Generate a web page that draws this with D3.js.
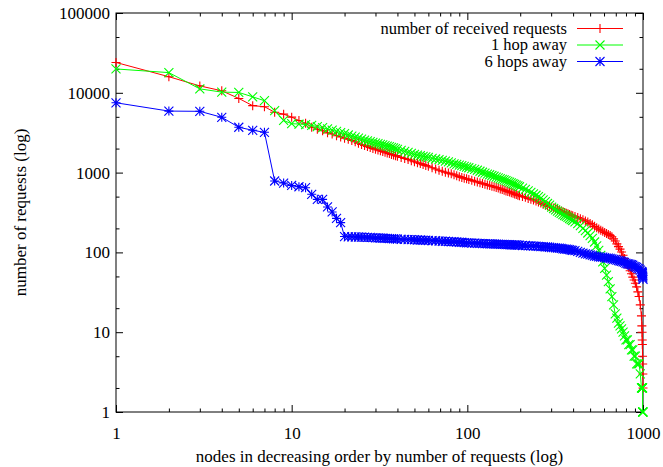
<!DOCTYPE html>
<html>
<head>
<meta charset="utf-8">
<script src="https://cdn.jsdelivr.net/npm/d3@7/dist/d3.min.js"></script>
<style>
html,body{margin:0;padding:0;background:#fff;}
svg{display:block;}
text{font-family:"Liberation Serif","Times New Roman",serif;}
</style>
</head>
<body>
<svg id="chart" width="663" height="467"></svg>
<script>
// ---- data ----
const ranks = [
1,2,3,4,5,6,7,8,9,10,11,12,13,14,15,16,17,18,19,20,
21,22,23,24,25,26,27,28,29,30,31,32,33,34,35,36,37,38,39,40,
42,44,46,48,50,52,54,56,58,60,
63,66,69,72,75,78,81,84,87,90,93,96,99,
102,106,110,114,118,122,126,130,134,138,142,146,150,154,158,162,166,170,174,178,182,186,190,194,198,
206,214,222,230,238,246,254,262,270,278,286,294,302,310,318,326,334,342,350,358,366,374,382,390,398,
410,425,440,455,470,485,500,515,530,545,560,575,590,605,620,635,650,665,680,695,
710,725,740,755,770,785,800,815,830,845,860,875,890,905,920,935,950,965,980,
985,988,990,992,994,996,998,1000];

const received = [
24000,15900,12200,10600,8500,6900,6700,5700,5400,4950,4500,4150,3700,3500,3350,3150,3050,2900,2800,2700,
2620,2530,2440,2340,2250,2190,2130,2070,2010,1960,1920,1880,1840,1800,1760,1730,1690,1660,1630,1600,
1550,1500,1460,1410,1370,1330,1300,1260,1230,1200,
1150,1110,1070,1040,1010,985,965,940,915,890,870,850,835,
820,800,780,765,745,730,715,700,690,675,665,650,640,625,615,600,590,580,570,560,550,540,530,520,512,
500,490,475,465,455,440,428,415,402,392,384,376,368,360,352,345,337,330,322,316,310,304,298,293,288,
281,273,264,256,248,240,231,222,212,203,196,190,184,178,173,168,163,157,148,139,
128,118,110,101,92,84,76,70,64,59,54,49,45,41,37,32,28,22,16,
12,10,8,7,5,4,3,2];

const oneHop = [
19900,17900,11200,10200,10100,8900,7960,5970,4500,4100,4060,4000,3900,3780,3650,3520,3400,3280,3170,3070,
2960,2860,2780,2700,2620,2550,2490,2440,2390,2340,2300,2260,2220,2180,2140,2110,2070,2040,2000,1960,
1900,1840,1790,1740,1690,1660,1630,1600,1575,1550,
1510,1480,1450,1420,1390,1360,1325,1290,1265,1240,1220,1195,1170,
1150,1120,1095,1070,1040,1010,985,960,940,920,900,880,860,840,825,810,795,775,760,745,725,710,695,680,665,
640,615,590,565,540,520,500,478,455,432,410,390,370,355,342,330,318,308,298,290,282,274,266,258,251,
242,230,216,200,187,175,162,150,135,121,106,92,76,63,52,43,35,28,22,17,
15,13,12,11,10,9,8,8,7,7,6,6,5,5,4,4,4,3,2,
2,2,2,2,2,1,1,1];

const sixHops = [
7500,5900,5860,4930,3700,3390,3200,785,740,690,665,647,535,462,462,371,321,267,236,158,
157,157,156,156,155,155,154,154,153,152,152,151,151,150,150,149,149,148,148,147,
146,146,145,145,144,143,143,142,142,141,
140,140,139,138,138,137,136,136,135,134,134,133,132,
132,131,131,130,130,129,129,128,128,128,127,127,127,126,126,126,125,125,125,124,124,124,124,123,123,
122,122,121,121,120,120,119,118,118,117,117,116,115,115,114,113,113,112,111,110,110,109,108,107,106,
105,103,100,98,96,95,93,92,90,89,88,87,87,86,85,85,84,83,82,81,
80,79,78,77,76,75,73,72,72,71,70,69,67,66,65,63,62,60,58,
57,56,55,54,52,50,48,46];

const seriesNames = ["number of received requests","1 hop away","6 hops away"];
const seriesColors = ["#ff0000","#00ff00","#0000ff"];
const seriesMarkers = ["plus","cross","star"];
const xTickLabels = [1,10,100,1000];
const yTickLabels = [1,10,100,1000,10000,100000];
const xTitle = "nodes in decreasing order by number of requests (log)";
const yTitle = "number of requests (log)";

// ---- layout ----
const L = 116, R = 643, T = 13, B = 412;
const FS = 17;

const svg = d3.select("#chart");
const x = d3.scaleLog().domain([1,1000]).range([L,R]);
const y = d3.scaleLog().domain([1,100000]).range([B,T]);

const xMinor = [];
for (let d = 1; d < 1000; d *= 10) for (let k = 2; k <= 9; k++) xMinor.push(d*k);
const yMinor = [];
for (let d = 1; d < 100000; d *= 10) { yMinor.push(d*2); yMinor.push(d*5); }

const MAJ = 7, MIN = 3.5;
const fmt = d => String(d);

function styleAxis(g){
  g.select(".domain").remove();
  g.selectAll(".tick line").attr("stroke","#000").attr("stroke-width",1);
  g.selectAll(".tick text").attr("fill","#000").style("font-size",FS+"px").style("font-family",'"Liberation Serif",serif');
}

svg.append("g").attr("transform",`translate(0,${B})`)
  .call(d3.axisBottom(x).tickValues(xTickLabels).tickFormat(fmt).tickSize(-MAJ).tickPadding(15)).call(styleAxis);
svg.append("g").attr("transform",`translate(0,${B})`)
  .call(d3.axisBottom(x).tickValues(xMinor).tickFormat("").tickSize(-MIN)).call(styleAxis);
svg.append("g").attr("transform",`translate(0,${T})`)
  .call(d3.axisTop(x).tickValues(xTickLabels).tickFormat("").tickSize(-MAJ)).call(styleAxis);
svg.append("g").attr("transform",`translate(0,${T})`)
  .call(d3.axisTop(x).tickValues(xMinor).tickFormat("").tickSize(-MIN)).call(styleAxis);
svg.append("g").attr("transform",`translate(${L},0)`)
  .call(d3.axisLeft(y).tickValues(yTickLabels).tickFormat(fmt).tickSize(-MAJ).tickPadding(6)).call(styleAxis);
svg.append("g").attr("transform",`translate(${L},0)`)
  .call(d3.axisLeft(y).tickValues(yMinor).tickFormat("").tickSize(-MIN)).call(styleAxis);
svg.append("g").attr("transform",`translate(${R},0)`)
  .call(d3.axisRight(y).tickValues(yTickLabels).tickFormat("").tickSize(-MAJ)).call(styleAxis);
svg.append("g").attr("transform",`translate(${R},0)`)
  .call(d3.axisRight(y).tickValues(yMinor).tickFormat("").tickSize(-MIN)).call(styleAxis);

svg.append("rect").attr("x",L).attr("y",T).attr("width",R-L).attr("height",B-T)
  .attr("fill","none").attr("stroke","#000").attr("stroke-width",1);

svg.append("text").attr("x",(L+R)/2).attr("y",462).attr("text-anchor","middle")
  .style("font-size",FS+"px").text(xTitle);
svg.append("text").attr("transform",`translate(26,${(T+B)/2}) rotate(-90)`).attr("text-anchor","middle")
  .style("font-size",FS+"px").text(yTitle);

const S = 4.5;
const markerPath = {
  plus:  `M${-S},0H${S}M0,${-S}V${S}`,
  cross: `M${-S},${-S}L${S},${S}M${-S},${S}L${S},${-S}`,
  star:  `M${-S},0H${S}M0,${-S}V${S}M${-S},${-S}L${S},${S}M${-S},${S}L${S},${-S}`
};

const allSeries = [received, oneHop, sixHops];
const line = d3.line().x(d => x(d[0])).y(d => y(d[1]));

allSeries.forEach((vals, i) => {
  const pts = ranks.map((r, j) => [r, vals[j]]).filter(d => d[1] != null);
  const g = svg.append("g");
  g.append("path").datum(pts).attr("d", line).attr("fill","none")
    .attr("stroke", seriesColors[i]).attr("stroke-width",1);
  g.selectAll("path.pt").data(pts).enter().append("path").attr("class","pt")
    .attr("transform", d => `translate(${x(d[0])},${y(d[1])})`)
    .attr("d", markerPath[seriesMarkers[i]])
    .attr("fill","none").attr("stroke", seriesColors[i]).attr("stroke-width",1.1);
});

const legY = [28.5, 45, 61.5];
seriesNames.forEach((name, i) => {
  const g = svg.append("g");
  g.append("text").attr("x",567).attr("y",legY[i]).attr("dy","0.33em").attr("text-anchor","end")
    .style("font-size","16.5px").text(name);
  g.append("line").attr("x1",577).attr("x2",623).attr("y1",legY[i]).attr("y2",legY[i])
    .attr("stroke",seriesColors[i]).attr("stroke-width",1);
  g.append("path").attr("transform",`translate(600,${legY[i]})`).attr("d",markerPath[seriesMarkers[i]])
    .attr("fill","none").attr("stroke",seriesColors[i]).attr("stroke-width",1.1);
});
</script>
</body>
</html>
